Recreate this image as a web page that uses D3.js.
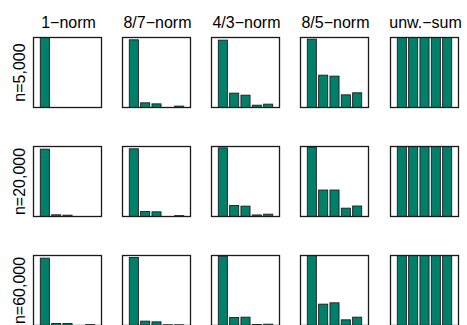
<!DOCTYPE html>
<html>
<head>
<meta charset="utf-8">
<script src="https://cdn.jsdelivr.net/npm/d3@7"></script>
<style>
  html, body { margin: 0; padding: 0; background: #fff; }
  svg { display: block; }
  text { font-family: "Liberation Sans", Arial, Helvetica, sans-serif; fill: #000; }
</style>
</head>
<body>
<script>
// Norm variants (columns) and sample sizes (rows)
const norms = ["1\u2212norm", "8/7\u2212norm", "4/3\u2212norm", "8/5\u2212norm", "unw.\u2212sum"];
const sampleSizes = ["n=5,000", "n=20,000", "n=60,000"];
const components = [1, 2, 3, 4, 5];

// Relative weight of each of the five components, per norm
const weights_n5000 = [
  [1.000, 0.000, 0.000, 0.000, 0.000],
  [0.967, 0.067, 0.052, 0.000, 0.020],
  [0.962, 0.205, 0.176, 0.033, 0.048],
  [0.976, 0.462, 0.448, 0.181, 0.210],
  [1.000, 1.000, 1.000, 1.000, 1.000]
];
const weights_n20000 = [
  [0.962, 0.024, 0.019, 0.000, 0.000],
  [0.967, 0.071, 0.067, 0.000, 0.012],
  [0.981, 0.157, 0.148, 0.022, 0.033],
  [0.990, 0.378, 0.378, 0.119, 0.150],
  [1.000, 1.000, 1.000, 1.000, 1.000]
];
const weights_n60000 = [
  [0.962, 0.029, 0.029, 0.000, 0.012],
  [0.971, 0.062, 0.052, 0.010, 0.010],
  [0.990, 0.114, 0.119, 0.014, 0.019],
  [1.000, 0.305, 0.324, 0.081, 0.119],
  [1.000, 1.000, 1.000, 1.000, 1.000]
];
const weightRows = [weights_n5000, weights_n20000, weights_n60000];

const W = 467, H = 325;
const panelW = 68, panelH = 70;
const left0 = 33.5, colStep = 89.25;
const top0 = 37.5, rowStep = 109;

const svg = d3.select("body").append("svg")
  .attr("width", W).attr("height", H);
svg.append("rect").attr("width", W).attr("height", H).attr("fill", "#fff");

const x = d3.scaleBand().domain(components).range([0, panelW])
  .paddingInner(0.2).paddingOuter(0.6);
const y = d3.scaleLinear().domain([0, 1]).range([panelH, 0]);

// Column titles
norms.forEach((name, c) => {
  const px = Math.round(left0 + c * colStep) + 0.5;
  svg.append("text")
    .attr("x", px + panelW / 2).attr("y", 28)
    .attr("text-anchor", "middle")
    .attr("font-size", 16)
    .text(name);
});

sampleSizes.forEach((label, r) => {
  const py = top0 + r * rowStep;
  // Row label, rotated
  svg.append("text")
    .attr("transform", `translate(25,${py + panelH / 2}) rotate(-90)`)
    .attr("text-anchor", "middle")
    .attr("font-size", 16)
    .text(label);

  norms.forEach((name, c) => {
    const px = Math.round(left0 + c * colStep) - 0.5;
    const g = svg.append("g").attr("transform", `translate(${px},${py})`);
    g.selectAll("rect.bar")
      .data(weightRows[r][c])
      .join("rect")
      .attr("class", "bar")
      .attr("x", (d, i) => x(components[i]))
      .attr("width", x.bandwidth())
      .attr("y", d => y(d))
      .attr("height", d => panelH - y(d))
      .attr("fill", "#00806a")
      .attr("stroke", "#1c1c1c")
      .attr("stroke-width", 0.9);
    g.append("rect")
      .attr("x", 0).attr("y", 0)
      .attr("width", panelW).attr("height", panelH)
      .attr("fill", "none")
      .attr("stroke", "#1a1a1a")
      .attr("stroke-width", 1.3);
  });
});
</script>
</body>
</html>
